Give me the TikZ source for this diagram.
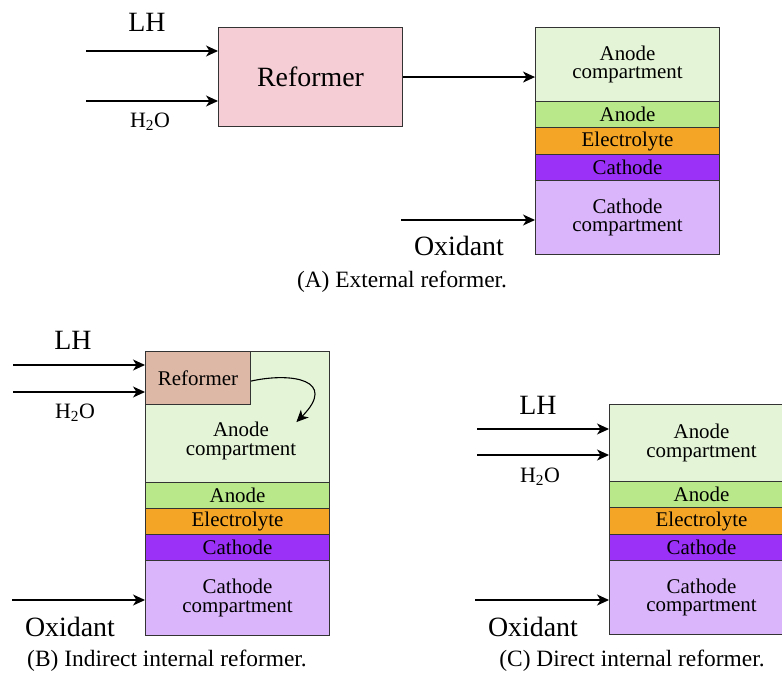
\documentclass[tikz,border=0pt]{standalone}
\usepackage{fontspec}
\setmainfont{Liberation Serif}
\usetikzlibrary{arrows.meta}

\definecolor{refpink}{HTML}{F5CDD4}
\definecolor{refbrown}{HTML}{DEB8A6}
\definecolor{anodecomp}{HTML}{E4F5D7}
\definecolor{anodecol}{HTML}{B9E88A}
\definecolor{electrocol}{HTML}{F4A526}
\definecolor{cathodecol}{HTML}{9B30F7}
\definecolor{cathodecomp}{HTML}{DAB5FB}
\definecolor{edgegray}{HTML}{333333}

\newcommand\largefont{\rmfamily\fontsize{28}{30}\selectfont}
\newcommand\boxfont{\rmfamily\fontsize{21}{18.5}\selectfont}
\newcommand\chemfont{\rmfamily\fontsize{22}{24}\selectfont}
\newcommand\capfont{\rmfamily\fontsize{23.5}{26}\selectfont}

\begin{document}
\begin{tikzpicture}[x=1bp,y=-1bp,
  layer/.style={draw=edgegray, line width=1.1bp, rectangle, inner sep=0pt,
    minimum width=184bp, anchor=north west, align=center, font=\boxfont},
  reformbox/.style={draw=edgegray, line width=1.1bp, rectangle, inner sep=0pt,
    anchor=north west, align=center},
  arr/.style={line width=1.1bp, -{Stealth[length=12bp,width=11bp,inset=3.5bp]}},
  lbl/.style={inner sep=0pt, font=\largefont},
  chem/.style={inner sep=0pt, font=\chemfont},
  captxt/.style={inner sep=0pt, font=\capfont}]
\useasboundingbox (0,0) rectangle (782,673);

% ---------- (A) external reformer ----------
\node[reformbox, fill=refpink, minimum width=184bp, minimum height=99bp,
  font=\largefont] (refA) at (218,27) {Reformer};
\node[layer, fill=anodecomp, minimum height=74bp] (acA) at (535,27) {Anode\\compartment};
\node[layer, fill=anodecol, minimum height=26bp] (anA) at (535,101) {Anode};
\node[layer, fill=electrocol, minimum height=27bp] (elA) at (535,127) {Electrolyte};
\node[layer, fill=cathodecol, minimum height=26bp] (caA) at (535,154) {Cathode};
\node[layer, fill=cathodecomp, minimum height=74bp] (ccA) at (535,180) {Cathode\\compartment};

\coordinate (lhAs) at (86,51);
\coordinate (h2oAs) at (86,101);
\coordinate (oxAs) at (401,220);
\draw[arr] (lhAs) -- (lhAs -| refA.west);
\draw[arr] (h2oAs) -- (h2oAs -| refA.west);
\draw[arr] (refA.east) -- (refA.east -| acA.west);
\draw[arr] (oxAs) -- (oxAs -| ccA.west);

\node[lbl] (lhA) at (147,22) {LH};
\node[chem] (h2oA) at (150,122) {H\textsubscript{2}O};
\node[lbl] (oxA) at (459,246) {Oxidant};
\node[captxt] (capA) at (402,282) {(A) External reformer.};

% ---------- (B) indirect internal reformer ----------
\node[layer, fill=anodecomp, minimum height=131bp] (acB) at (145,351) {};
\node[font=\boxfont, inner sep=0pt, align=center] (acBt) at (241,441) {Anode\\compartment};
\node[reformbox, fill=refbrown, minimum width=105bp, minimum height=53bp,
  font=\boxfont] (refB) at (145,351) {Reformer};
\node[layer, fill=anodecol, minimum height=26bp] (anB) at (145,482) {Anode};
\node[layer, fill=electrocol, minimum height=26bp] (elB) at (145,508) {Electrolyte};
\node[layer, fill=cathodecol, minimum height=26bp] (caB) at (145,534) {Cathode};
\node[layer, fill=cathodecomp, minimum height=75bp] (ccB) at (145,560) {Cathode\\compartment};

\coordinate (lhBs) at (13,365);
\coordinate (h2oBs) at (13,392);
\coordinate (oxBs) at (12,600);
\draw[arr] (lhBs) -- (lhBs -| acB.west);
\draw[arr] (h2oBs) -- (h2oBs -| acB.west);
\draw[arr] (oxBs) -- (oxBs -| ccB.west);
\draw[arr] ([yshift=-3bp]refB.east) .. controls (292,372) and (338,380) .. (acBt.north east);

\node[lbl] (lhB) at (73,340) {LH};
\node[chem] (h2oB) at (75,413) {H\textsubscript{2}O};
\node[lbl] (oxB) at (70,627) {Oxidant};
\node[captxt] (capB) at (167,661) {(B) Indirect internal reformer.};

% ---------- (C) direct internal reformer ----------
\node[layer, fill=anodecomp, minimum height=77bp] (acC) at (609,404) {Anode\\compartment};
\node[layer, fill=anodecol, minimum height=26bp] (anC) at (609,481) {Anode};
\node[layer, fill=electrocol, minimum height=27bp] (elC) at (609,507) {Electrolyte};
\node[layer, fill=cathodecol, minimum height=26bp] (caC) at (609,534) {Cathode};
\node[layer, fill=cathodecomp, minimum height=74bp] (ccC) at (609,560) {Cathode\\compartment};

\coordinate (lhCs) at (477,429);
\coordinate (h2oCs) at (477,455);
\coordinate (oxCs) at (475,600);
\draw[arr] (lhCs) -- (lhCs -| acC.west);
\draw[arr] (h2oCs) -- (h2oCs -| acC.west);
\draw[arr] (oxCs) -- (oxCs -| ccC.west);

\node[lbl] (lhC) at (538,405) {LH};
\node[chem] (h2oC) at (540,477) {H\textsubscript{2}O};
\node[lbl] (oxC) at (533,627) {Oxidant};
\node[captxt] (capC) at (632,661) {(C) Direct internal reformer.};
\end{tikzpicture}
\end{document}
